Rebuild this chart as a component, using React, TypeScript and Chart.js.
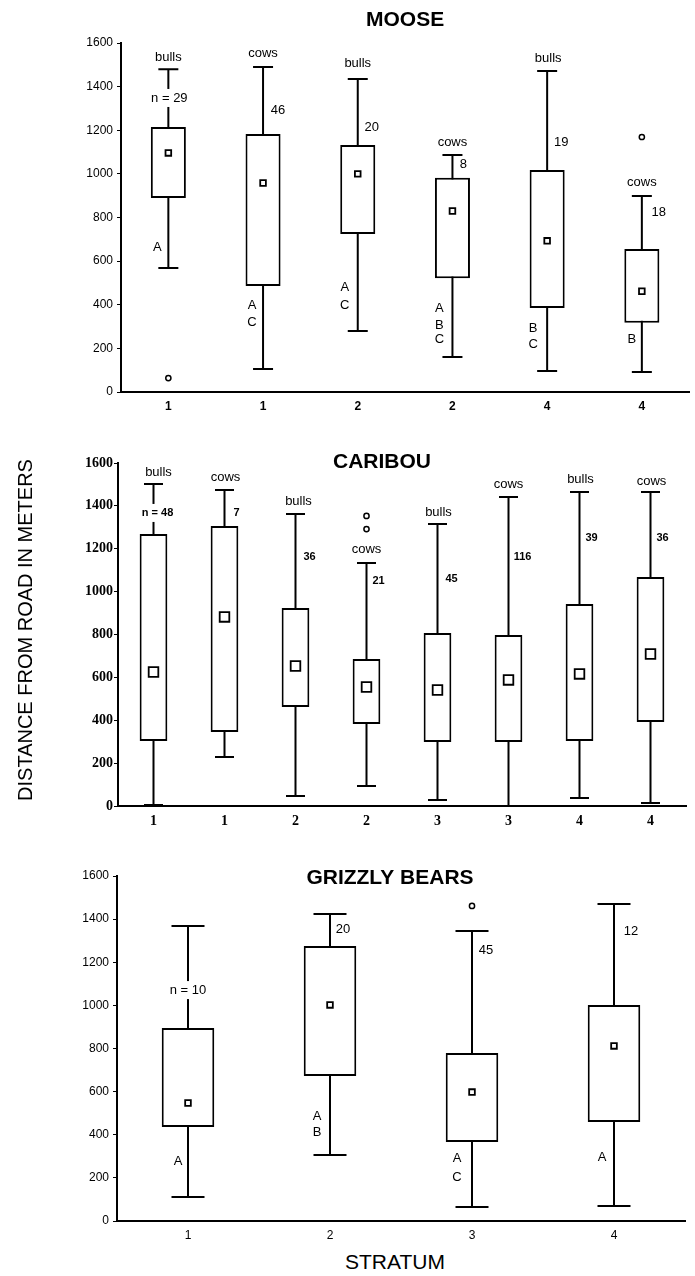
import React, { useEffect, useRef } from 'react';
import { Chart, registerables } from 'chart.js';
Chart.register(...registerables);

// ---------- MOOSE ----------
const mooseCategories = ['1', '1', '2', '2', '4', '4'];
const mooseQ1 = [889, 486, 724, 522, 385, 318];
const mooseQ3 = [1215, 1183, 1132, 982, 1018, 656];
const mooseLow = [569, 105, 280, 161, 96, 92];
const mooseHigh = [1480, 1490, 1435, 1087, 1472, 898];
const mooseMean = [1096, 958, 1000, 830, 693, 462];
const mooseOutlierIdx = [0, 5];
const mooseOutlierVal = [64, 1169];

// ---------- CARIBOU ----------
const caribouCategories = ['1', '1', '2', '2', '3', '3', '4', '4'];
const caribouQ1 = [303, 345, 462, 383, 299, 299, 303, 392];
const caribouQ3 = [1269, 1306, 924, 686, 807, 798, 942, 1068];
const caribouLow = [5, 229, 47, 93, 28, 0, 37, 14];
const caribouHigh = [1502, 1474, 1362, 1133, 1316, 1441, 1465, 1465];
const caribouMean = [625, 882, 653, 555, 541, 588, 616, 709];
const caribouOutlierIdx = [3, 3];
const caribouOutlierVal = [1353, 1292];

// ---------- GRIZZLY BEARS ----------
const grizzlyCategories = ['1', '2', '3', '4'];
const grizzlyQ1 = [436, 672, 366, 459];
const grizzlyQ3 = [895, 1275, 779, 1002];
const grizzlyLow = [111, 306, 65, 70];
const grizzlyHigh = [1368, 1424, 1345, 1470];
const grizzlyMean = [547, 1002, 598, 812];
const grizzlyOutlierIdx = [2];
const grizzlyOutlierVal = [1461];

const yTickValues = [0, 200, 400, 600, 800, 1000, 1200, 1400, 1600];

// annotation: [text, category index, value, x offset px, kind]
type Ann = [string, number, number, number, string];

const mooseAnn: Ann[] = [
  ['bulls', 0, 1536, 0, 'lbl'],
  ['n = 29', 0, 1348, 1, 'nbg'],
  ['A', 0, 665, -11, 'sig'],
  ['cows', 1, 1550, 0, 'lbl'],
  ['46', 1, 1293, 15, 'num'],
  ['A', 1, 399, -11, 'sig'],
  ['C', 1, 321, -11, 'sig'],
  ['bulls', 2, 1508, 0, 'lbl'],
  ['20', 2, 1215, 14, 'num'],
  ['A', 2, 481, -13, 'sig'],
  ['C', 2, 399, -13, 'sig'],
  ['cows', 3, 1146, 0, 'lbl'],
  ['8', 3, 1045, 11, 'num'],
  ['A', 3, 381, -13, 'sig'],
  ['B', 3, 307, -13, 'sig'],
  ['C', 3, 243, -13, 'sig'],
  ['bulls', 4, 1531, 1, 'lbl'],
  ['19', 4, 1146, 14, 'num'],
  ['B', 4, 293, -14, 'sig'],
  ['C', 4, 220, -14, 'sig'],
  ['cows', 5, 963, 0, 'lbl'],
  ['18', 5, 825, 17, 'num'],
  ['B', 5, 243, -10, 'sig'],
];

const caribouAnn: Ann[] = [
  ['bulls', 0, 1558, 5, 'lbl'],
  ['n = 48', 0, 1367, 4, 'nbg'],
  ['cows', 1, 1535, 1, 'lbl'],
  ['7', 1, 1367, 12, 'num'],
  ['bulls', 2, 1423, 3, 'lbl'],
  ['36', 2, 1162, 14, 'num'],
  ['cows', 3, 1199, 0, 'lbl'],
  ['21', 3, 1050, 12, 'num'],
  ['bulls', 4, 1371, 1, 'lbl'],
  ['45', 4, 1059, 14, 'num'],
  ['cows', 5, 1502, 0, 'lbl'],
  ['116', 5, 1162, 14, 'num'],
  ['bulls', 6, 1525, 1, 'lbl'],
  ['39', 6, 1250, 12, 'num'],
  ['cows', 7, 1516, 1, 'lbl'],
  ['36', 7, 1250, 12, 'num'],
];

const grizzlyAnn: Ann[] = [
  ['n = 10', 0, 1071, 0, 'nbg'],
  ['A', 0, 274, -10, 'sig'],
  ['20', 1, 1350, 13, 'num'],
  ['A', 1, 487, -13, 'sig'],
  ['B', 1, 413, -13, 'sig'],
  ['45', 2, 1257, 14, 'num'],
  ['A', 2, 288, -15, 'sig'],
  ['C', 2, 204, -15, 'sig'],
  ['12', 3, 1345, 17, 'num'],
  ['A', 3, 297, -12, 'sig'],
];

type PanelCfg = {
  top: number; height: number; axisLeft: number; padRight: number; padTop: number; padBottom: number;
  categories: string[]; q1: number[]; q3: number[]; low: number[]; high: number[]; mean: number[];
  outIdx: number[]; outVal: number[]; ann: Ann[];
  title: string; titleDx: number; titleDy: number;
  yFont: any; xFont: any; fonts: Record<string, string>;
  barPct: number; cap: number; meanR: number; outR: number; yPad: number;
};

const SANS = 'Liberation Sans, Arial, sans-serif';
const SERIF = 'Liberation Serif, Times New Roman, serif';

const panels: PanelCfg[] = [
  {
    top: 0, height: 420, axisLeft: 121, padRight: 5, padTop: 43, padBottom: 3,
    categories: mooseCategories, q1: mooseQ1, q3: mooseQ3, low: mooseLow, high: mooseHigh, mean: mooseMean,
    outIdx: mooseOutlierIdx, outVal: mooseOutlierVal, ann: mooseAnn,
    title: 'MOOSE', titleDx: 0, titleDy: -23,
    yFont: { family: SANS, size: 12 }, xFont: { family: SANS, size: 12, weight: 'bold' },
    fonts: { lbl: `13px ${SANS}`, nbg: `13px ${SANS}`, num: `13px ${SANS}`, sig: `13px ${SANS}` },
    barPct: 0.37, cap: 20, meanR: 4.0, outR: 2.6, yPad: 4,
  },
  {
    top: 420, height: 420, axisLeft: 118, padRight: 9, padTop: 43, padBottom: 9,
    categories: caribouCategories, q1: caribouQ1, q3: caribouQ3, low: caribouLow, high: caribouHigh, mean: caribouMean,
    outIdx: caribouOutlierIdx, outVal: caribouOutlierVal, ann: caribouAnn,
    title: 'CARIBOU', titleDx: -20, titleDy: -1,
    yFont: { family: SERIF, size: 14, weight: 'bold' }, xFont: { family: SERIF, size: 14, weight: 'bold' },
    fonts: { lbl: `13px ${SANS}`, nbg: `bold 11px ${SANS}`, num: `bold 11px ${SANS}`, sig: `13px ${SANS}` },
    barPct: 0.39, cap: 19, meanR: 6.8, outR: 2.6, yPad: 1,
  },
  {
    top: 840, height: 410, axisLeft: 117, padRight: 10, padTop: 36, padBottom: 4,
    categories: grizzlyCategories, q1: grizzlyQ1, q3: grizzlyQ3, low: grizzlyLow, high: grizzlyHigh, mean: grizzlyMean,
    outIdx: grizzlyOutlierIdx, outVal: grizzlyOutlierVal, ann: grizzlyAnn,
    title: 'GRIZZLY BEARS', titleDx: -11, titleDy: 2,
    yFont: { family: SANS, size: 12 }, xFont: { family: SANS, size: 12 },
    fonts: { lbl: `13px ${SANS}`, nbg: `13px ${SANS}`, num: `13px ${SANS}`, sig: `13px ${SANS}` },
    barPct: 0.37, cap: 33, meanR: 4.0, outR: 2.6, yPad: 4,
  },
];

function makePlugin(cfg: PanelCfg) {
  return {
    id: 'boxExtras',
    beforeDatasetsDraw(chart: any) {
      const { ctx, scales } = chart;
      const x = scales.x, y = scales.y;
      ctx.save();
      ctx.strokeStyle = '#000';
      ctx.lineWidth = 2;
      cfg.low.forEach((lo, i) => {
        const px = x.getPixelForValue(i);
        const yl = y.getPixelForValue(lo);
        const yh = y.getPixelForValue(cfg.high[i]);
        const h = cfg.cap / 2;
        ctx.beginPath();
        ctx.moveTo(px, yl); ctx.lineTo(px, yh);
        ctx.moveTo(px - h, yl); ctx.lineTo(px + h, yl);
        ctx.moveTo(px - h, yh); ctx.lineTo(px + h, yh);
        ctx.stroke();
      });
      ctx.restore();
    },
    afterDatasetsDraw(chart: any) {
      const { ctx, scales, chartArea } = chart;
      const x = scales.x, y = scales.y;
      ctx.save();
      ctx.textAlign = 'center';
      ctx.textBaseline = 'middle';
      cfg.ann.forEach(([text, i, v, dx, kind]) => {
        const px = x.getPixelForValue(i) + dx;
        const py = y.getPixelForValue(v);
        ctx.font = cfg.fonts[kind];
        if (kind === 'nbg') {
          const w = ctx.measureText(text).width;
          ctx.fillStyle = '#fff';
          ctx.fillRect(px - w / 2 - 2, py - 9, w + 4, 18);
        }
        ctx.fillStyle = '#000';
        ctx.fillText(text, px, py);
      });
      ctx.font = `bold 21px ${SANS}`;
      ctx.fillStyle = '#000';
      ctx.fillText(cfg.title, (chartArea.left + chartArea.right) / 2 + cfg.titleDx, chartArea.top + cfg.titleDy);
      ctx.restore();
    },
  };
}

function Panel({ cfg }: { cfg: PanelCfg }) {
  const ref = useRef<HTMLCanvasElement>(null);
  useEffect(() => {
    const labels = cfg.categories.map((_, i) => i);
    const chart = new Chart(ref.current as HTMLCanvasElement, {
      type: 'bar',
      data: {
        labels,
        datasets: [
          {
            type: 'line',
            data: cfg.mean,
            showLine: false,
            pointStyle: 'rect',
            pointRadius: cfg.meanR,
            pointBackgroundColor: '#fff',
            pointBorderColor: '#000',
            pointBorderWidth: 1.8,
            order: 1,
          } as any,
          {
            type: 'line',
            data: cfg.outIdx.map((ix, k) => ({ x: ix, y: cfg.outVal[k] })),
            showLine: false,
            pointStyle: 'circle',
            pointRadius: cfg.outR,
            pointBackgroundColor: '#fff',
            pointBorderColor: '#000',
            pointBorderWidth: 1.5,
            order: 2,
          } as any,
          {
            type: 'bar',
            data: cfg.q1.map((q, i) => [q, cfg.q3[i]]),
            backgroundColor: '#fff',
            borderColor: '#000',
            borderWidth: 2,
            borderSkipped: false,
            barPercentage: cfg.barPct,
            categoryPercentage: 1,
            order: 3,
          } as any,
        ],
      },
      options: {
        responsive: false,
        animation: false,
        events: [],
        layout: { padding: { left: 0, right: cfg.padRight, top: cfg.padTop, bottom: cfg.padBottom } },
        plugins: { legend: { display: false }, tooltip: { enabled: false }, title: { display: false } },
        scales: {
          x: {
            type: 'category',
            offset: true,
            grid: { display: false, drawTicks: false },
            border: { display: true, color: '#000', width: 2 },
            ticks: {
              color: '#000',
              font: cfg.xFont,
              padding: 7,
              callback: (_v: any, i: number) => cfg.categories[i],
            },
            afterFit: (s: any) => { s.height = 25; },
          },
          y: {
            min: 0,
            max: 1600,
            afterBuildTicks: (s: any) => { s.ticks = yTickValues.map((v) => ({ value: v })); },
            grid: { display: true, drawOnChartArea: false, drawTicks: true, tickLength: 4, color: '#000', lineWidth: 1 },
            border: { display: true, color: '#000', width: 2 },
            ticks: {
              color: '#000',
              font: cfg.yFont,
              padding: cfg.yPad,
              callback: (v: any) => String(v),
            },
            afterFit: (s: any) => { s.width = cfg.axisLeft; },
          },
        },
      },
      plugins: [makePlugin(cfg)],
    } as any);
    return () => chart.destroy();
  }, [cfg]);
  return (
    <canvas
      ref={ref}
      width={695}
      height={cfg.height}
      style={{ position: 'absolute', left: 0, top: cfg.top, width: 695, height: cfg.height, display: 'block' }}
    />
  );
}

export default function App() {
  return (
    <div style={{ position: 'absolute', left: 0, top: 0, width: 695, height: 1276, background: '#fff', overflow: 'hidden' }}>
      {panels.map((p, i) => (
        <Panel key={i} cfg={p} />
      ))}
      <div
        style={{
          position: 'absolute', left: 25 - 200, top: 630 - 12, width: 400, height: 24, lineHeight: '24px',
          textAlign: 'center', transform: 'rotate(-90deg)', fontFamily: SANS, fontSize: 20, color: '#000',
        }}
      >
        DISTANCE FROM ROAD IN METERS
      </div>
      <div
        style={{
          position: 'absolute', left: 395 - 100, top: 1262 - 12, width: 200, height: 24, lineHeight: '24px',
          textAlign: 'center', fontFamily: SANS, fontSize: 21, color: '#000',
        }}
      >
        STRATUM
      </div>
    </div>
  );
}
